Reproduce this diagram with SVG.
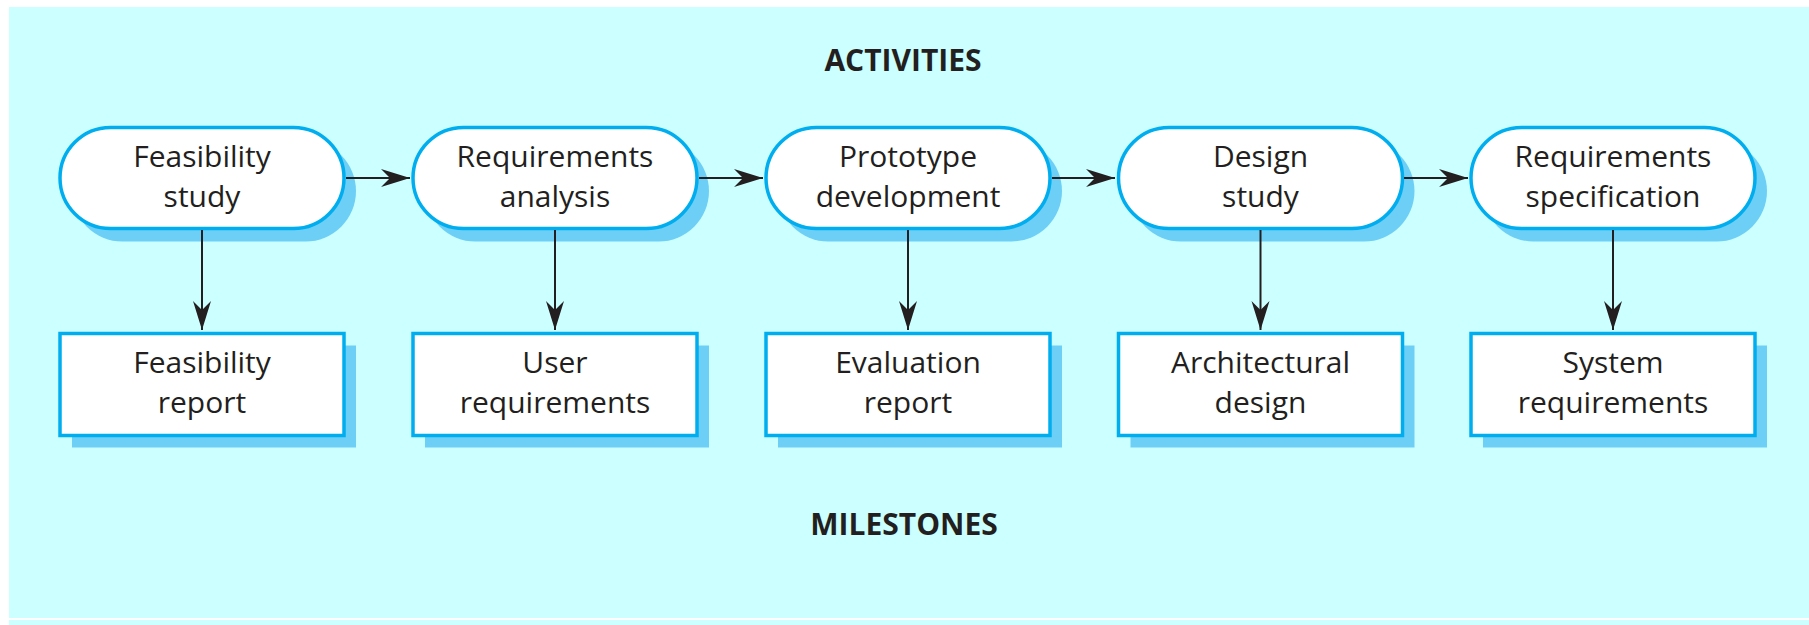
<svg xmlns="http://www.w3.org/2000/svg" width="1809" height="625" viewBox="0 0 1809 625">
  <defs>
    <style>
      .bg { fill: #ccffff; }
      .shadow { fill: #6dcff6; }
      .node { fill: #ffffff; stroke: #00aeef; stroke-width: 3.5; }
      .label { font-family: "Open Sans", "Noto Sans", sans-serif; font-size: 30px; fill: #231f20; text-anchor: middle; }
      .title { font-family: "Open Sans", "Noto Sans", sans-serif; font-size: 30px; font-weight: 700; fill: #231f20; text-anchor: middle; }
      .conn { stroke: #231f20; stroke-width: 2; fill: none; marker-end: url(#arrow); }
    </style>
    <marker id="arrow" viewBox="-30 -10 31 20" refX="0" refY="0" markerWidth="31" markerHeight="20" markerUnits="userSpaceOnUse" orient="auto">
      <path d="M0,0 L-29,-9 L-20,0 L-29,9 Z" fill="#231f20"/>
    </marker>
  </defs>

  <rect x="0" y="0" width="1809" height="625" fill="#ffffff"/>
  <rect class="bg" x="9" y="7" width="1800" height="611"/>
  <rect class="bg" x="9" y="620" width="1800" height="5"/>

  <text class="title" x="903" y="71">ACTIVITIES</text>
  <text class="title" x="904" y="535">MILESTONES</text>

  <!-- Activities -->
  <g id="act1">
    <rect class="shadow" x="72" y="140.5" width="284" height="101" rx="50.5"/>
    <rect class="node" x="60" y="127.5" width="284" height="101" rx="50.5"/>
    <text class="label" x="202" y="167">Feasibility</text>
    <text class="label" x="202" y="207">study</text>
  </g>
  <g id="act2">
    <rect class="shadow" x="425" y="140.5" width="284" height="101" rx="50.5"/>
    <rect class="node" x="413" y="127.5" width="284" height="101" rx="50.5"/>
    <text class="label" x="555" y="167">Requirements</text>
    <text class="label" x="555" y="207">analysis</text>
  </g>
  <g id="act3">
    <rect class="shadow" x="778" y="140.5" width="284" height="101" rx="50.5"/>
    <rect class="node" x="766" y="127.5" width="284" height="101" rx="50.5"/>
    <text class="label" x="908" y="167">Prototype</text>
    <text class="label" x="908" y="207">development</text>
  </g>
  <g id="act4">
    <rect class="shadow" x="1130.5" y="140.5" width="284" height="101" rx="50.5"/>
    <rect class="node" x="1118.5" y="127.5" width="284" height="101" rx="50.5"/>
    <text class="label" x="1260.5" y="167">Design</text>
    <text class="label" x="1260.5" y="207">study</text>
  </g>
  <g id="act5">
    <rect class="shadow" x="1483" y="140.5" width="284" height="101" rx="50.5"/>
    <rect class="node" x="1471" y="127.5" width="284" height="101" rx="50.5"/>
    <text class="label" x="1613" y="167">Requirements</text>
    <text class="label" x="1613" y="207">specification</text>
  </g>

  <!-- Milestones -->
  <g id="ms1">
    <rect class="shadow" x="72" y="345.5" width="284" height="102"/>
    <rect class="node" x="60" y="333.5" width="284" height="102"/>
    <text class="label" x="202" y="373">Feasibility</text>
    <text class="label" x="202" y="413">report</text>
  </g>
  <g id="ms2">
    <rect class="shadow" x="425" y="345.5" width="284" height="102"/>
    <rect class="node" x="413" y="333.5" width="284" height="102"/>
    <text class="label" x="555" y="373">User</text>
    <text class="label" x="555" y="413">requirements</text>
  </g>
  <g id="ms3">
    <rect class="shadow" x="778" y="345.5" width="284" height="102"/>
    <rect class="node" x="766" y="333.5" width="284" height="102"/>
    <text class="label" x="908" y="373">Evaluation</text>
    <text class="label" x="908" y="413">report</text>
  </g>
  <g id="ms4">
    <rect class="shadow" x="1130.5" y="345.5" width="284" height="102"/>
    <rect class="node" x="1118.5" y="333.5" width="284" height="102"/>
    <text class="label" x="1260.5" y="373">Architectural</text>
    <text class="label" x="1260.5" y="413">design</text>
  </g>
  <g id="ms5">
    <rect class="shadow" x="1483" y="345.5" width="284" height="102"/>
    <rect class="node" x="1471" y="333.5" width="284" height="102"/>
    <text class="label" x="1613" y="373">System</text>
    <text class="label" x="1613" y="413">requirements</text>
  </g>

  <g id="connectors">
    <line class="conn" x1="346" y1="178" x2="410" y2="178"/>
    <line class="conn" x1="699" y1="178" x2="763" y2="178"/>
    <line class="conn" x1="1052" y1="178" x2="1115" y2="178"/>
    <line class="conn" x1="1404" y1="178" x2="1468" y2="178"/>
    <line class="conn" x1="202" y1="230" x2="202" y2="330"/>
    <line class="conn" x1="555" y1="230" x2="555" y2="330"/>
    <line class="conn" x1="908" y1="230" x2="908" y2="330"/>
    <line class="conn" x1="1260.5" y1="230" x2="1260.5" y2="330"/>
    <line class="conn" x1="1613" y1="230" x2="1613" y2="330"/>
  </g>
</svg>
